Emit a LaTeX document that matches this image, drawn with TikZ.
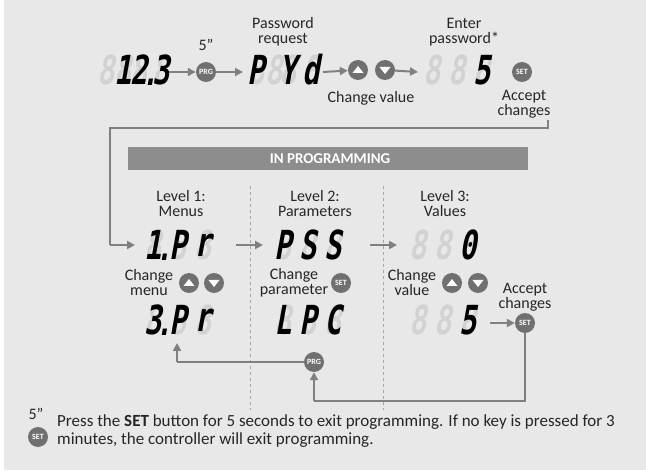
\documentclass[tikz,border=0pt]{standalone}
\usepackage{fontspec}
\setmainfont{Carlito}
\newfontfamily\segfont[FakeSlant=0.18,FakeStretch=0.72]{DejaVu Sans Mono}
\usetikzlibrary{arrows.meta}
\definecolor{bg}{RGB}{232,232,232}
\definecolor{btn}{RGB}{112,112,112}
\definecolor{ln}{RGB}{128,128,128}
\definecolor{ghost}{RGB}{210,210,210}
\tikzset{
  lbl/.style={font=\fontsize{16}{15}\selectfont, align=center, text=black!85, inner sep=0pt},
  btnc/.style={circle, fill=btn, minimum size=20pt, inner sep=0pt, text=white, font=\bfseries\fontsize{8}{8}\selectfont},
  arr/.style={draw=ln, line width=2pt, -{Triangle[length=8pt,width=8pt]}},
  conn/.style={draw=ln, line width=2pt},
  gh/.style={font=\segfont\bfseries\fontsize{40}{40}\selectfont, text=ghost, inner sep=0pt},
  dg/.style={font=\segfont\bfseries\fontsize{40}{40}\selectfont, text=black, inner sep=0pt},
  dp/.style={font=\segfont\bfseries\fontsize{36}{36}\selectfont, text=black, inner sep=0pt},
}
\newcommand\sd[4]{\node[gh] at (#2,#3) {8}; \node[dg] (#1) at (#2,#3) {#4};}
\newcommand\upb[3]{\node[btnc] (#1) at (#2,#3) {}; \fill[white] (#2-5.5,#3+3) -- (#2+5.5,#3+3) -- (#2,#3-4) -- cycle;}
\newcommand\dnb[3]{\node[btnc] (#1) at (#2,#3) {}; \fill[white] (#2-5.5,#3-3) -- (#2+5.5,#3-3) -- (#2,#3+4) -- cycle;}
\begin{document}
\begin{tikzpicture}[x=1pt,y=-1pt]
\useasboundingbox (0,0) rectangle (646,473);
\fill[white] (0,0) rectangle (646,473);
\fill[bg] (4,0) rectangle (646,470);
% row 1
\sd{a0}{106}{70}{}\sd{a1}{123}{70}{1}\sd{a2}{139}{70}{2}\sd{a3}{161}{70}{3}
\node[dp] (a4) at (150,82) {.};
\node[btnc] (prg1) at (206,72) {PRG};
\node[lbl] (fs) at (206,45) {5"};
\draw[arr] (169,72) -- (prg1);
\sd{p1}{256}{70}{P}\sd{p0}{274}{70}{}\sd{p2}{288}{70}{Y}\sd{p3}{311}{70}{d}
\node[lbl] (pr) at (283,32) {Password\\request};
\draw[arr] (prg1) -- (243,72);
\upb{u1}{358}{70}\dnb{d1}{385}{70}
\node[lbl] (cv1) at (371,98) {Change value};
\draw[arr] (323,72) -- (u1);
\sd{e1}{432}{70}{}\sd{e2}{457}{70}{}\sd{e3}{482}{70}{5}
\node[lbl] (ep) at (464,32) {Enter\\password*};
\draw[arr] (d1) -- (418,72);
\node[btnc] (set1) at (522,72) {SET};
\node[lbl] (ac1) at (524,104) {Accept\\changes};
% banner
\fill[btn!80] (128,147) rectangle (528,170);
\node[text=white, font=\bfseries\fontsize{15}{15}\selectfont] (ban) at (330,158.5) {IN PROGRAMMING};
% dashed
\draw[ln!70, dashed, line width=0.6pt] (250,186) -- (250,410);
\draw[ln!70, dashed, line width=0.6pt] (383,186) -- (383,410);
\node[lbl] (l1) at (181,204) {Level 1:\\Menus};
\node[lbl] (l2) at (315,204) {Level 2:\\Parameters};
\node[lbl] (l3) at (445,204) {Level 3:\\Values};
% row 2
\sd{m1}{153}{245}{1}\sd{m2}{178}{245}{P}\sd{m3}{203}{245}{r}
\node[dp] (mdot) at (164,257) {.};
\sd{s1}{283}{245}{P}\sd{s2}{308}{245}{S}\sd{s3}{333}{245}{S}
\sd{v1}{418}{245}{}\sd{v2}{443}{245}{}\sd{v3}{468}{245}{0}
\draw[arr] (236,245) -- (263,245);
\draw[arr] (370,245) -- (397,245);
\coordinate (c1) at (548,120);
\coordinate (c2) at (548,128);
\coordinate (c3) at (110,128);
\coordinate (c4) at (110,245);
\draw[conn] (c1) -- (c2) -- (c3) -- (c4);
\draw[arr] (c4) -- (135,245);
% row 3 labels
\node[lbl] (cm) at (149,283) {Change\\menu};
\upb{u2}{189}{283}\dnb{d2}{214}{283}
\node[lbl] (cp) at (294,283) {Change\\parameter};
\node[btnc] (set2) at (341,283) {SET};
\node[lbl] (cv2) at (412,283) {Change\\value};
\upb{u3}{452}{283}\dnb{d3}{478}{283}
\node[lbl] (ac2) at (525,297) {Accept\\changes};
\node[btnc] (set3) at (525,323) {SET};
% row 4
\sd{n1}{153}{320}{3}\sd{n2}{178}{320}{P}\sd{n3}{203}{320}{r}
\node[dp] (ndot) at (164,332) {.};
\sd{q1}{283}{320}{L}\sd{q2}{308}{320}{P}\sd{q3}{333}{320}{C}
\sd{w1}{418}{320}{}\sd{w2}{443}{320}{}\sd{w3}{468}{320}{5}
\draw[arr] (490,323) -- (set3);
\node[btnc] (prg2) at (314,362) {PRG};
\coordinate (k1) at (177,362);
\draw[conn] (prg2) -- (k1);
\draw[arr] (k1) -- (177,343);
\coordinate (k2) at (525,401);
\coordinate (k3) at (314,401);
\draw[conn] (set3) -- (k2) -- (k3);
\draw[arr] (k3) -- (prg2);
% footer
\node[lbl] (f5) at (36,414) {5"};
\node[btnc] (set4) at (38,437) {SET};
\node[lbl, anchor=west, align=left, font=\fontsize{17}{18}\selectfont] (ft) at (57,431) {Press the \textbf{SET} button for 5 seconds to exit programming. If no key is pressed for 3\\minutes, the controller will exit programming.};
\end{tikzpicture}
\end{document}
